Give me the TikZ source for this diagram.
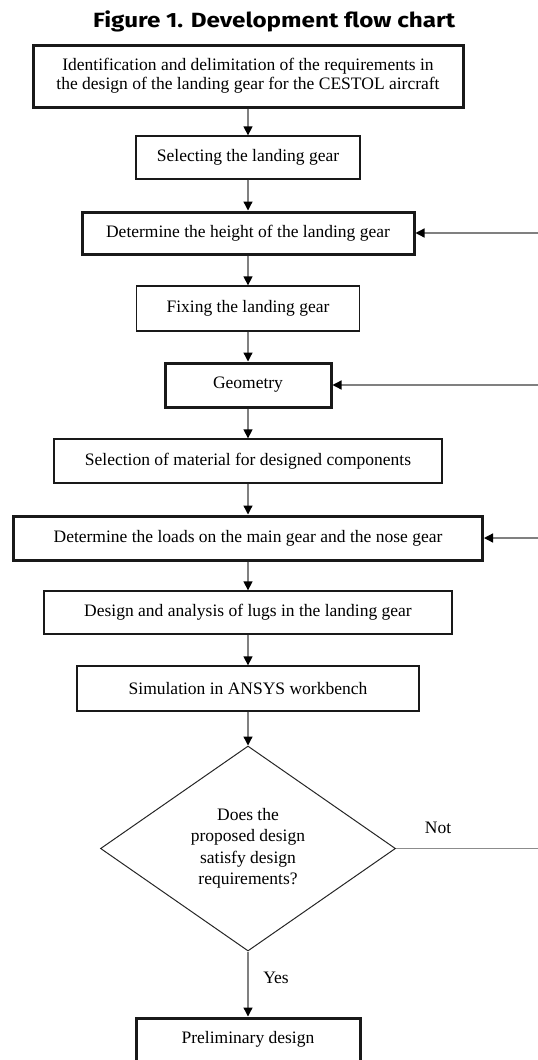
\documentclass[tikz,border=0pt]{standalone}
\usepackage{fontspec}
\setmainfont{Liberation Serif}
\newfontfamily\titlefont{Fira Sans}
\usetikzlibrary{shapes.geometric,arrows.meta}
\begin{document}
\begin{tikzpicture}[x=1pt,y=1pt,
  txt/.style={font=\fontsize{17.5}{19}\selectfont, align=center},
  box/.style={txt, draw=black!90, line width=1.3pt, rectangle, inner sep=0pt},
  tbox/.style={box, line width=3pt},
  conn/.style={draw=black!50, line width=1.3pt, -{Triangle[length=9pt,width=9pt,color=black]}},
  plain/.style={draw=black!45, line width=1.3pt}
]
\useasboundingbox (0,0) rectangle (538,-1060);
\node[anchor=base west, inner sep=0pt] (title) at (93,-27.3)
  {\resizebox{362pt}{16.7pt}{\titlefont\bfseries Figure 1. Development flow chart}};

\node[tbox, minimum width=430pt, minimum height=62pt] (b1) at (248,-76)
  {Identification and delimitation of the requirements in\\the design of the landing gear for the CESTOL aircraft};
\node[box, minimum width=224pt, minimum height=43pt] (b2) at (248,-157.5) {Selecting the landing gear};
\node[tbox, minimum width=332pt, minimum height=42pt] (b3) at (248,-233) {Determine the height of the landing gear};
\node[box, minimum width=223pt, minimum height=45pt] (b4) at (248,-308.5) {Fixing the landing gear};
\node[tbox, minimum width=166pt, minimum height=44pt] (b5) at (248,-385) {Geometry};
\node[box, minimum width=388pt, minimum height=44pt] (b6) at (248,-461) {Selection of material for designed components};
\node[tbox, minimum width=469pt, minimum height=44pt] (b7) at (248,-538) {Determine the loads on the main gear and the nose gear};
\node[box, minimum width=408pt, minimum height=43pt] (b8) at (248,-612.5) {Design and analysis of lugs in the landing gear};
\node[box, minimum width=342pt, minimum height=45pt] (b9) at (248,-688.5) {Simulation in ANSYS workbench};
\node[diamond, draw=black!85, line width=1pt, inner sep=0pt, minimum width=295pt, minimum height=205pt,
  font=\fontsize{17.5}{21.5}\selectfont, align=center] (dia) at (248,-848.5)
  {Does the\\proposed design\\satisfy design\\requirements?};
\node[tbox, minimum width=224pt, minimum height=43pt] (b10) at (248,-1039.5) {Preliminary design};

\node[txt] (not) at (438,-828) {Not};
\node[txt] (yes) at (276,-978) {Yes};

\coordinate (r3) at (538,-233);
\coordinate (r5) at (538,-385);
\coordinate (r7) at (538,-538);
\coordinate (rn) at (538,-848.5);

\draw[conn] (b1) -- (b2);
\draw[conn] (b2) -- (b3);
\draw[conn] (b3) -- (b4);
\draw[conn] (b4) -- (b5);
\draw[conn] (b5) -- (b6);
\draw[conn] (b6) -- (b7);
\draw[conn] (b7) -- (b8);
\draw[conn] (b8) -- (b9);
\draw[conn] (b9) -- (dia);
\draw[conn] (dia) -- (b10);
\draw[conn] (r3) -- (b3);
\draw[conn] (r5) -- (b5);
\draw[conn] (r7) -- (b7);
\draw[plain] (dia.east) -- (rn);
\end{tikzpicture}
\end{document}
